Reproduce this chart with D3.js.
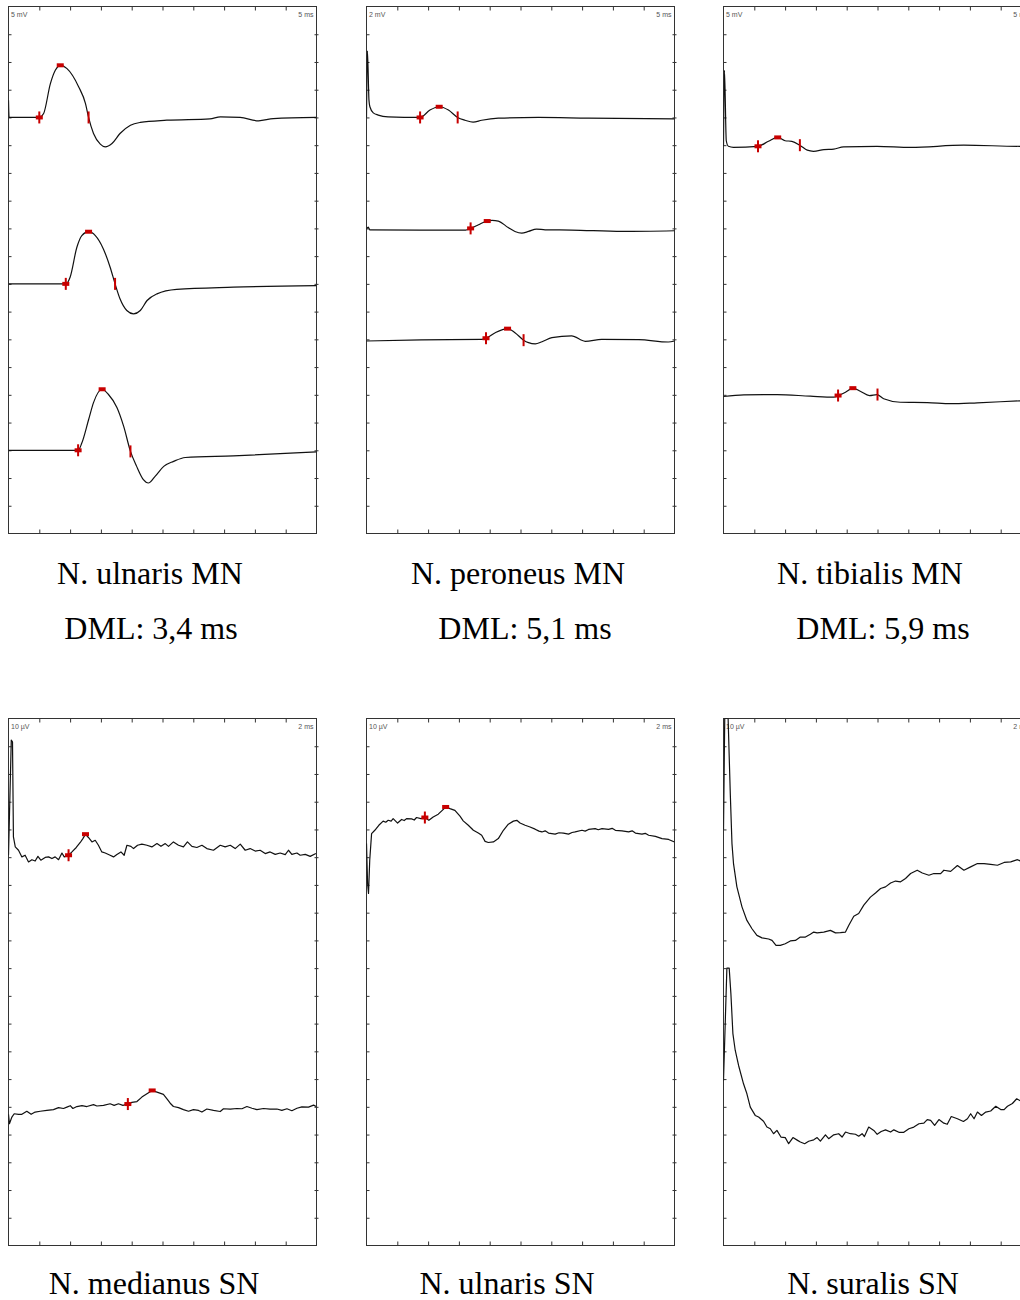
<!DOCTYPE html>
<html>
<head>
<meta charset="utf-8">
<script src="https://cdn.jsdelivr.net/npm/d3@7"></script>
<style>
  body { margin: 0; background: #fff; }
  .title { font-family: "Liberation Serif", "Times New Roman", serif; font-size: 32px; fill: #000; }
  .unit { font-family: "Liberation Sans", Arial, sans-serif; font-size: 7px; fill: #555; }
</style>
</head>
<body>
<div id="chart"></div>
<script>
// ---- panel texts / scales ----
var titles = ["N. ulnaris MN", "N. peroneus MN", "N. tibialis MN", "N. medianus SN", "N. ulnaris SN", "N. suralis SN"];
var dmlTexts = ["DML: 3,4 ms", "DML: 5,1 ms", "DML: 5,9 ms", "", "", ""];
var ampLabels = ["5 mV", "2 mV", "5 mV", "10 \u00b5V", "10 \u00b5V", "10 \u00b5V"];
var timeLabels = ["5 ms", "5 ms", "5 ms", "2 ms", "2 ms", "2 ms"];
var ampPerDiv = [5, 2, 5, 10, 10, 10];   // mV or µV per division
var msPerDiv = [5, 5, 5, 2, 2, 2];
var traceRows = [[4, 10, 16], [4, 8, 12], [5, 14], [5, 14], [4], [4, 13]]; // baseline division from top

// ---- traces: [ms, amplitude] ----
var ulnarisMN1 = [[0,3.1],[0.1,0],[5.0,0],[5.7,0.7],[6.8,6.1],[7.6,8.5],[8.4,9.4],[9.5,8.8],[11.4,5.5],[12.5,2.5],[13.0,0],[13.8,-2.9],[14.9,-4.8],[15.7,-5.3],[16.8,-4.7],[18.1,-2.9],[19.8,-1.4],[21.4,-0.9],[25.7,-0.5],[32.7,-0.25],[34.4,0.1],[37.6,0],[40.6,-0.6],[43.0,-0.2],[50,0]];
var ulnarisMN2 = [[0,0],[9.3,0],[10.0,1.2],[11.1,6.6],[11.9,8.7],[13.0,9.4],[14.1,8.7],[15.4,6.3],[16.5,3.0],[17.3,0],[18.1,-2.7],[19.2,-4.8],[20.3,-5.4],[21.4,-4.8],[22.5,-3.0],[24.1,-1.8],[27.3,-1.0],[36.5,-0.6],[50,-0.3]];
var ulnarisMN3 = [[0,0],[11.3,0],[11.9,1.3],[13.0,5.5],[13.8,8.6],[15.2,11.0],[16.2,10.1],[17.6,7.7],[18.7,4.3],[19.8,-0.2],[20.8,-2.9],[21.9,-5.3],[22.7,-5.9],[23.8,-4.7],[25.2,-2.9],[26.8,-2.0],[28.7,-1.3],[36.5,-1.0],[50,-0.3]];

var peroneusMN1 = [[0,0],[0.15,4.8],[0.4,1.25],[0.55,0.77],[1.1,0.33],[1.9,0.17],[3.5,0.04],[8.7,0],[10.3,0.53],[11.8,0.77],[13.3,0.53],[14.8,0],[16.0,-0.2],[17.3,-0.34],[18.7,-0.2],[21.4,-0.05],[27.9,0],[36.0,-0.05],[50,-0.1]];
var peroneusMN2 = [[0,-0.05],[0.3,0.1],[0.5,-0.1],[8.9,-0.12],[16.1,-0.12],[16.9,0],[18.1,0.24],[19.5,0.53],[20.4,0.58],[21.4,0.53],[23.0,0.06],[24.1,-0.22],[25.2,-0.34],[26.3,-0.22],[27.6,-0.05],[29.0,-0.1],[33.3,-0.12],[41.5,-0.22],[50,-0.17]];
var peroneusMN3 = [[0,-0.12],[8.9,-0.04],[18.7,0],[19.4,0.08],[20.9,0.48],[22.9,0.77],[24.1,0.48],[25.5,-0.06],[26.3,-0.24],[27.4,-0.33],[28.5,-0.17],[30.1,0.12],[33.3,0.25],[35.5,-0.14],[38.2,0],[44.2,-0.02],[49.0,-0.19],[50,-0.12]];

var tibialisMN1 = [[0,-0.2],[0.16,13.5],[0.45,0.8],[0.8,-0.2],[1.6,-0.4],[5.6,-0.2],[7.3,0.7],[8.8,1.4],[10.0,0.8],[11.1,0.7],[12.5,-0.1],[13.6,-0.9],[14.6,-1.1],[16.3,-0.8],[17.9,-0.7],[19.5,-0.3],[24.9,-0.2],[30.4,-0.4],[39.0,0],[48.2,-0.2],[50,-0.2]];
var tibialisMN2 = [[0,-0.3],[3.3,0],[8.7,0.05],[14.1,-0.25],[17.9,-0.43],[18.6,-0.13],[19.8,0.47],[21.0,1.2],[22.2,0.65],[23.7,-0.13],[24.9,0.05],[26.0,-0.72],[28.7,-1.34],[33.1,-1.4],[36.9,-1.6],[41.2,-1.44],[48.2,-1.08],[50,-1.0]];

var medianusSN1 = [[0,0.7],[0.18,42.2],[0.26,41.6],[0.32,7.3],[0.44,3.7],[0.65,2.5],[0.87,0.1],[1.08,0.7],[1.3,-1.7],[1.52,-0.9],[1.73,-1.4],[1.91,0.3],[2.1,-1.1],[2.38,-0.1],[2.6,0.1],[2.82,-0.5],[3.03,0.1],[3.25,-0.9],[3.47,1.5],[3.62,0.1],[3.9,0.7],[4.12,1.9],[4.4,3.5],[4.66,5.3],[4.83,6.7],[5.0,8.3],[5.19,7.1],[5.42,5.5],[5.63,6.1],[5.84,4.3],[6.06,1.9],[6.28,1.5],[6.6,0.7],[6.82,0.1],[7.04,1.0],[7.3,1.9],[7.51,0.7],[7.69,4.3],[7.95,3.9],[8.12,3.1],[8.38,4.3],[8.66,4.7],[8.99,4.3],[9.31,3.7],[9.64,4.9],[9.9,3.9],[10.18,4.9],[10.39,3.9],[10.71,5.5],[11.04,4.3],[11.36,3.7],[11.62,5.5],[11.91,3.9],[12.23,3.5],[12.56,4.3],[12.88,3.1],[13.31,2.5],[13.75,4.3],[14.07,3.7],[14.4,4.3],[14.72,3.1],[15.05,4.7],[15.37,2.5],[15.69,3.1],[16.02,2.2],[16.34,2.5],[16.67,1.3],[16.99,1.9],[17.32,1.0],[17.64,1.5],[17.97,0.9],[18.18,2.5],[18.4,1.0],[18.73,1.5],[18.94,0.7],[19.27,1.0],[19.59,0.3],[19.96,1.3]];
var medianusSN2 = [[0,-2.7],[0.06,-6.1],[0.22,-3.7],[0.37,-2.5],[0.65,-2.7],[0.87,-2.7],[1.19,-1.6],[1.47,-2.7],[1.73,-1.9],[2.06,-1.6],[2.49,-1.3],[2.92,-1.0],[3.25,-0.3],[3.57,-0.6],[3.79,-0.1],[4.01,0.4],[4.18,-0.6],[4.44,0.1],[4.77,0.4],[5.09,0.1],[5.52,0.8],[5.74,0.3],[6.17,0.5],[6.6,1.1],[6.86,0.5],[7.14,1.1],[7.43,0.5],[7.75,1.0],[8.01,1.6],[8.34,1.9],[8.66,3.5],[8.99,4.7],[9.33,5.9],[9.64,5.3],[10.06,4.5],[10.29,2.9],[10.5,1.3],[10.71,0.1],[11.04,-0.3],[11.36,-1.0],[11.69,-1.6],[12.01,-1.0],[12.34,-1.3],[12.56,-1.9],[12.88,-0.8],[13.31,-1.3],[13.75,-1.7],[13.96,-0.7],[14.4,-0.8],[14.83,-0.6],[15.16,-0.7],[15.48,0.1],[15.81,-0.5],[16.13,-1.0],[16.56,-0.6],[16.99,-0.8],[17.43,-0.8],[17.75,-1.3],[18.08,-0.7],[18.4,-1.4],[18.73,-0.5],[19.05,0],[19.48,-0.1],[19.81,0.6],[19.98,0.1]];

var ulnarisSN1 = [[0,-5.1],[0.07,-19.5],[0.13,-23.1],[0.21,-11.1],[0.33,-1.5],[0.54,-0.3],[0.8,1.5],[1.08,3.0],[1.25,2.6],[1.41,3.3],[1.6,3.0],[1.73,3.9],[2.02,2.3],[2.28,3.6],[2.45,3.2],[2.6,3.9],[2.93,3.8],[3.1,3.4],[3.25,4.3],[3.53,3.9],[3.79,4.3],[4.05,3.3],[4.33,4.5],[4.66,5.5],[4.92,6.9],[5.14,8.1],[5.42,7.5],[5.74,6.9],[6.07,4.8],[6.28,3.1],[6.61,1.5],[6.94,-0.3],[7.26,-1.3],[7.48,-2.1],[7.7,-4.3],[7.91,-4.7],[8.24,-4.5],[8.56,-3.3],[8.89,-0.3],[9.21,1.9],[9.54,3.0],[9.76,3.3],[9.97,2.3],[10.3,1.5],[10.62,0.9],[10.95,0.1],[11.2,-0.6],[11.39,-0.9],[11.6,-0.5],[11.82,-1.3],[12.25,-1.7],[12.5,-1.2],[12.79,-1.3],[13.12,-1.7],[13.35,-1.1],[13.55,-0.9],[13.99,-0.3],[14.2,-0.6],[14.42,0],[14.85,0.3],[15.05,-0.1],[15.29,0.3],[15.72,0],[15.95,0.4],[16.16,-0.3],[16.59,-0.5],[17.02,-0.9],[17.25,-0.5],[17.46,-1.3],[17.89,-1.7],[18.1,-1.4],[18.32,-2.1],[18.76,-2.5],[19.19,-3.3],[19.62,-3.6],[20,-4.5]];

var suralisSN1 = [[0,0],[0.08,40],[0.3,40],[0.44,13.0],[0.55,-5.1],[0.65,-12.3],[0.87,-20.7],[1.2,-27.9],[1.52,-32.8],[1.85,-35.8],[2.17,-38.2],[2.5,-39.1],[2.93,-39.5],[3.15,-40.0],[3.41,-41.8],[3.69,-41.8],[4.01,-41.2],[4.34,-40.2],[4.67,-40.0],[4.99,-38.8],[5.32,-38.8],[5.64,-37.8],[5.86,-37.0],[6.08,-37.3],[6.51,-37.0],[6.94,-36.4],[7.27,-37.3],[7.59,-37.2],[7.92,-37.0],[8.13,-34.6],[8.46,-31.3],[8.78,-30.3],[9.11,-27.3],[9.54,-24.4],[9.87,-22.9],[10.2,-21.3],[10.52,-20.7],[10.85,-19.3],[11.17,-18.6],[11.5,-18.9],[11.82,-17.7],[12.15,-15.9],[12.58,-14.7],[12.91,-15.7],[13.34,-16.5],[13.66,-15.9],[14.1,-15.9],[14.31,-14.7],[14.75,-15.1],[15.19,-13.0],[15.61,-14.7],[16.05,-13.5],[16.49,-12.3],[16.92,-12.3],[17.35,-12.6],[17.79,-12.9],[18.22,-11.9],[18.65,-11.7],[19.09,-10.9],[19.3,-11.4],[20,-11.0]];
var suralisSN2 = [[0,-0.5],[0.22,40],[0.37,40],[0.48,30.8],[0.61,16.4],[0.76,10.4],[0.98,4.9],[1.3,-1.7],[1.52,-5.3],[1.74,-10.1],[2.06,-13.1],[2.28,-13.7],[2.6,-15.2],[2.82,-17.3],[3.04,-17.9],[3.25,-19.7],[3.47,-18.5],[3.73,-20.9],[4.01,-21.1],[4.23,-23.3],[4.51,-21.1],[4.81,-22.1],[4.99,-22.7],[5.27,-23.3],[5.53,-22.4],[5.86,-21.9],[6.08,-21.1],[6.29,-22.4],[6.62,-20.1],[6.83,-21.5],[7.16,-20.1],[7.48,-19.7],[7.7,-20.9],[7.92,-19.1],[8.24,-19.7],[8.57,-19.9],[8.78,-20.6],[9.0,-19.7],[9.15,-20.7],[9.43,-17.3],[9.76,-18.5],[9.98,-19.9],[10.24,-18.9],[10.52,-18.3],[10.85,-19.1],[11.06,-18.3],[11.39,-19.2],[11.71,-19.2],[12.04,-17.9],[12.36,-17.3],[12.69,-16.1],[13.01,-15.9],[13.23,-14.6],[13.45,-14.9],[13.71,-16.7],[13.99,-14.6],[14.31,-15.9],[14.53,-16.3],[14.79,-13.5],[15.19,-14.3],[15.58,-15.3],[15.84,-14.3],[16.05,-12.5],[16.27,-14.3],[16.49,-11.9],[16.75,-13.1],[17.03,-11.9],[17.35,-11.5],[17.68,-9.8],[18.0,-11.0],[18.22,-11.0],[18.44,-9.8],[18.76,-8.8],[19.04,-7.1],[19.3,-7.9],[20,-7.5]];

// ---- cursor marks: [ms, amplitude, kind] ----
var ulnarisMN1Marks = [[5.0,0,"onset"],[8.4,9.4,"peak"],[13.0,0,"end"]];
var ulnarisMN2Marks = [[9.3,0,"onset"],[13.0,9.4,"peak"],[17.3,0,"end"]];
var ulnarisMN3Marks = [[11.3,0,"onset"],[15.2,11.0,"peak"],[19.8,-0.2,"end"]];
var peroneusMN1Marks = [[8.7,0,"onset"],[11.8,0.77,"peak"],[14.8,0,"end"]];
var peroneusMN2Marks = [[16.9,0,"onset"],[19.6,0.53,"peak"]];
var peroneusMN3Marks = [[19.4,0.08,"onset"],[22.9,0.77,"peak"],[25.5,-0.06,"end"]];
var tibialisMN1Marks = [[5.6,-0.2,"onset"],[8.8,1.4,"peak"],[12.4,0,"end"]];
var tibialisMN2Marks = [[18.6,-0.13,"onset"],[21.0,1.2,"peak"],[25.0,0.05,"end"]];
var medianusSN1Marks = [[3.9,0.7,"onset"],[5.0,8.3,"peak"]];
var medianusSN2Marks = [[7.75,1.0,"onset"],[9.33,5.9,"peak"]];
var ulnarisSN1Marks = [[3.79,4.3,"onset"],[5.14,8.1,"peak"]];

var panelTraces = [
    [ulnarisMN1, ulnarisMN2, ulnarisMN3],
    [peroneusMN1, peroneusMN2, peroneusMN3],
    [tibialisMN1, tibialisMN2],
    [medianusSN1, medianusSN2],
    [ulnarisSN1],
    [suralisSN1, suralisSN2]
];
var panelMarks = [
    [ulnarisMN1Marks, ulnarisMN2Marks, ulnarisMN3Marks],
    [peroneusMN1Marks, peroneusMN2Marks, peroneusMN3Marks],
    [tibialisMN1Marks, tibialisMN2Marks],
    [medianusSN1Marks, medianusSN2Marks],
    [ulnarisSN1Marks],
    [[], []]
];

// ---- layout ----
var colX = [8.5, 366.5, 723.5],
    rowY = [6.5, 718.5],
    pw = 308, ph = 527,
    xDivs = 10, yDivs = 19;
var titleX = [150, 518, 870, 154, 507, 873];
var dmlX = [151, 525, 883];
var red = "#c80000";

var svg = d3.select("#chart").append("svg")
    .attr("width", 1020)
    .attr("height", 1300)
    .style("background-color", "#fff");

titles.forEach(function (title, i) {
    var col = i % 3, row = Math.floor(i / 3);
    var x0 = colX[col], y0 = rowY[row];

    var x = d3.scaleLinear().domain([0, xDivs * msPerDiv[i]]).range([x0, x0 + pw]);
    var y = d3.scaleLinear().domain([-yDivs * ampPerDiv[i], 0]).range([y0 + ph, y0]);

    var g = svg.append("g");

    g.append("clipPath").attr("id", "clip" + i)
        .append("rect")
        .attr("x", x0).attr("y", y0)
        .attr("width", pw).attr("height", ph);

    var xt = d3.range(1, xDivs).map(function (d) { return d * msPerDiv[i]; });
    var yt = d3.range(1, yDivs).map(function (d) { return -d * ampPerDiv[i]; });

    // ticks on all four sides, pointing into the panel
    g.append("g").attr("transform", "translate(0," + y0 + ")")
        .call(d3.axisBottom(x).tickValues(xt).tickSize(4).tickFormat(""));
    g.append("g").attr("transform", "translate(0," + (y0 + ph) + ")")
        .call(d3.axisTop(x).tickValues(xt).tickSize(4).tickFormat(""));
    g.append("g").attr("transform", "translate(" + x0 + ",0)")
        .call(d3.axisRight(y).tickValues(yt).tickSize(3).tickFormat(""));
    g.append("g").attr("transform", "translate(" + (x0 + pw - 2) + ",0)")
        .call(d3.axisRight(y).tickValues(yt).tickSize(4).tickFormat(""));
    g.selectAll(".domain").remove();
    g.selectAll(".tick line").attr("stroke", "#333").attr("stroke-width", 1);

    g.append("rect")
        .attr("x", x0).attr("y", y0)
        .attr("width", pw).attr("height", ph)
        .attr("fill", "none")
        .attr("stroke", "#333")
        .attr("stroke-width", 1);

    g.append("text").attr("class", "unit")
        .attr("x", x0 + 2.5).attr("y", y0 + 10.5)
        .text(ampLabels[i]);
    g.append("text").attr("class", "unit")
        .attr("x", x0 + pw - 3).attr("y", y0 + 10.5)
        .attr("text-anchor", "end")
        .text(timeLabels[i]);

    var traceG = g.append("g").attr("clip-path", "url(#clip" + i + ")");

    panelTraces[i].forEach(function (trace, j) {
        var offset = -traceRows[i][j] * ampPerDiv[i];
        var line = d3.line()
            .x(function (d) { return x(d[0]); })
            .y(function (d) { return y(d[1] + offset); })
            .curve(row === 0 ? d3.curveMonotoneX : d3.curveLinear);

        traceG.append("path")
            .datum(trace)
            .attr("fill", "none")
            .attr("stroke", "#111")
            .attr("stroke-width", 1.2)
            .attr("stroke-linejoin", "round")
            .attr("d", line);

        var marks = g.selectAll(null)
            .data(panelMarks[i][j])
            .enter().append("g")
            .attr("transform", function (d) {
                return "translate(" + x(d[0]) + "," + y(d[1] + offset) + ")";
            });

        marks.filter(function (d) { return d[2] !== "end"; })
            .append("rect")
            .attr("x", -3.5).attr("y", -2)
            .attr("width", 7).attr("height", 4)
            .attr("fill", red);
        marks.filter(function (d) { return d[2] !== "peak"; })
            .append("rect")
            .attr("x", -1).attr("y", -6)
            .attr("width", 2).attr("height", 12)
            .attr("fill", red);
    });

    var ty = row === 0 ? 584 : 1294;
    svg.append("text").attr("class", "title")
        .attr("x", titleX[i]).attr("y", ty)
        .attr("text-anchor", "middle")
        .text(title);
    if (dmlTexts[i]) {
        svg.append("text").attr("class", "title")
            .attr("x", dmlX[col]).attr("y", 639)
            .attr("text-anchor", "middle")
            .text(dmlTexts[i]);
    }
});
</script>
</body>
</html>
